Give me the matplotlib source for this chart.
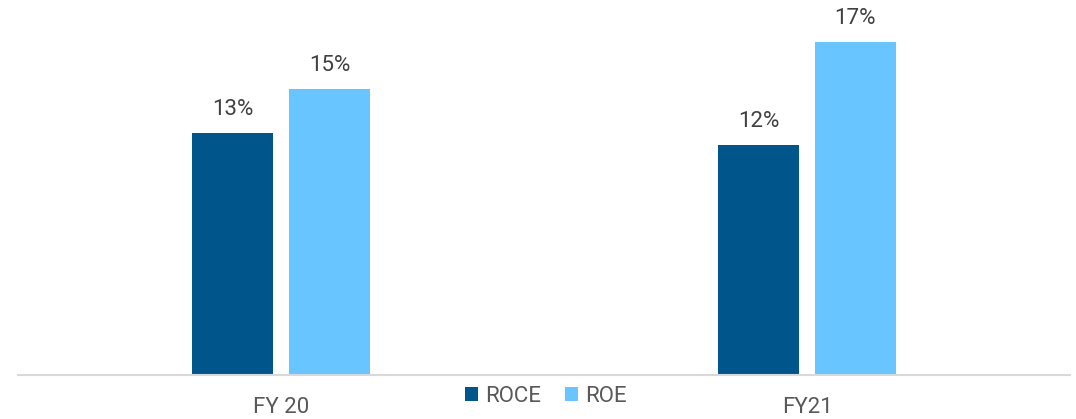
import matplotlib
matplotlib.use("Agg")
import matplotlib.pyplot as plt
import numpy as np

plt.rcParams["font.family"] = ["Roboto", "DejaVu Sans"]

categories = ["FY 20", "FY21"]
series_names = ["ROCE", "ROE"]
roce = [12.6, 12.0]
roe = [14.9, 17.35]
labels_roce = ["13%", "12%"]
labels_roe = ["15%", "17%"]

colors = ["#00568A", "#69C5FF"]
text_color = "#404040"

W, H = 1076, 419
fig = plt.figure(figsize=(W / 100, H / 100), dpi=100)
ax = fig.add_axes([18 / W, (H - 375) / H, (1070 - 18) / W, 375 / H])

x = np.arange(len(categories))
bw = 0.154
off = 0.092
b1 = ax.bar(x - off, roce, bw, color=colors[0], label=series_names[0], zorder=2)
b2 = ax.bar(x + off, roe, bw, color=colors[1], label=series_names[1], zorder=2)

fs = 16
for bars, labs in ((b1, labels_roce), (b2, labels_roe)):
    for rect, lab in zip(bars, labs):
        ax.annotate(lab, (rect.get_x() + rect.get_width() / 2, rect.get_height()),
                    xytext=(0, 13), textcoords="offset points", ha="center", va="baseline",
                    fontsize=fs, color=text_color)

ax.set_xlim(-0.5, 1.5)
ax.set_ylim(0, 375 / 19.2)
ax.set_xticks(x)
ax.set_xticklabels(categories, fontsize=fs, color="#595959")
ax.tick_params(axis="x", length=0, pad=16)
ax.set_yticks([])
for s in ("top", "right", "left"):
    ax.spines[s].set_visible(False)
ax.spines["bottom"].set_color("#d9d9d9")
ax.spines["bottom"].set_linewidth(1.5)

fig.legend(loc="center", bbox_to_anchor=(546 / W, (H - 396) / H), ncol=2, frameon=False,
           fontsize=fs, labelcolor="#595959", handlelength=0.58, handleheight=0.58,
           handletextpad=0.3, columnspacing=1.1)

fig.savefig("out.png", dpi=100)
